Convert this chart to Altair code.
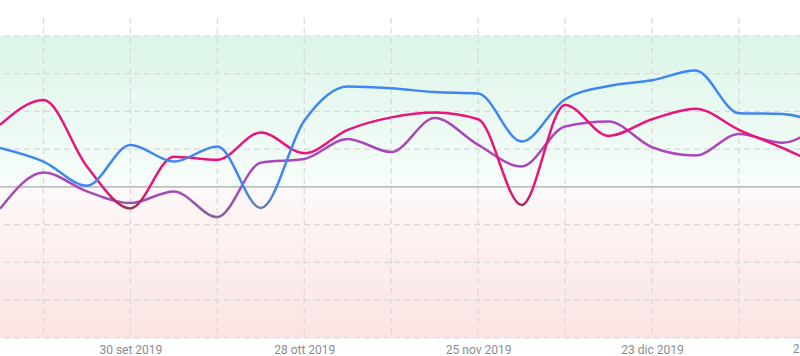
import altair as alt
import pandas as pd

# ---- data (weekly, Mondays) ----
dates = [
    "2019-09-09T00:00:00", "2019-09-16T00:00:00", "2019-09-23T00:00:00", "2019-09-30T00:00:00",
    "2019-10-07T00:00:00", "2019-10-14T00:00:00", "2019-10-21T00:00:00", "2019-10-28T00:00:00",
    "2019-11-04T00:00:00", "2019-11-11T00:00:00", "2019-11-18T00:00:00", "2019-11-25T00:00:00",
    "2019-12-02T00:00:00", "2019-12-09T00:00:00", "2019-12-16T00:00:00", "2019-12-23T00:00:00",
    "2019-12-30T00:00:00", "2020-01-06T00:00:00", "2020-01-13T00:00:00", "2020-01-20T00:00:00",
]
blue = [1.03, 0.67, 0.03, 1.11, 0.67, 1.07, -0.56, 1.75, 2.66, 2.61,
        2.51, 2.47, 1.20, 2.32, 2.67, 2.82, 3.08, 1.95, 1.93, 1.60]
magenta = [1.64, 2.30, 0.54, -0.57, 0.80, 0.72, 1.44, 0.89, 1.51, 1.84,
           1.97, 1.79, -0.48, 2.17, 1.35, 1.79, 2.07, 1.51, 1.03, 0.50]
purple = [-0.58, 0.38, -0.12, -0.43, -0.12, -0.80, 0.64, 0.74, 1.27, 0.92,
          1.82, 1.11, 0.54, 1.60, 1.73, 1.05, 0.83, 1.40, 1.17, 1.80]

grid_dates = ["2019-09-16T00:00:00", "2019-09-30T00:00:00", "2019-10-14T00:00:00",
              "2019-10-28T00:00:00", "2019-11-11T00:00:00", "2019-11-25T00:00:00",
              "2019-12-09T00:00:00", "2019-12-23T00:00:00", "2020-01-06T00:00:00"]
grid_values = [-4, -3, -2, -1, 1, 2, 3, 4]
label_dates = [(2019, 9, 30), (2019, 10, 28), (2019, 11, 25), (2019, 12, 23)]
extra_label_date = ["2020-01-20T00:00:00"]
extra_label_text = ["20 gen 2020"]
month_names = ['gen', 'feb', 'mar', 'apr', 'mag', 'giu', 'lug', 'ago', 'set', 'ott', 'nov', 'dic']

df = pd.DataFrame({"date": dates, "blue": blue, "magenta": magenta, "purple": purple})

W, H = 800, 320
LABEL_COLOR = "#8c8c8c"
FONT = "Roboto"

xscale = alt.Scale(domain=[alt.DateTime(year=2019, month=9, date=9),
                           alt.DateTime(year=2020, month=1, date=15, hours=20)])
yscale = alt.Scale(domain=[-4, 4.47], nice=False, zero=False)

label_expr = ("date(datum.value) + ' ' + " + str(month_names).replace('"', "'") +
              "[month(datum.value)] + ' ' + year(datum.value)")
xaxis = alt.Axis(values=[alt.DateTime(year=y, month=m, date=d) for y, m, d in label_dates],
                 labelExpr=label_expr, grid=False, ticks=False, domain=False,
                 labelFont=FONT, labelFontSize=12, labelColor=LABEL_COLOR,
                 labelPadding=6, labelFlush=False, title=None)

one = pd.DataFrame({"k": [0]})


def grad(stops):
    return {"gradient": "linear", "x1": 0, "y1": 0, "x2": 0, "y2": 1,
            "stops": [{"offset": o, "color": c} for o, c in stops]}


green_bg = alt.Chart(one).mark_rect(
    fill=grad([(0, "#dcf5e8"), (1, "#f7fdfa")])
).encode(
    x=alt.value(0), x2=alt.value("width"),
    y=alt.Y(datum=4, scale=yscale, axis=None), y2=alt.Y2(datum=0)
)
pink_bg = alt.Chart(one).mark_rect(
    fill=grad([(0, "#fef8f8"), (1, "#fbe3e3")])
).encode(
    x=alt.value(0), x2=alt.value("width"),
    y=alt.Y(datum=0, scale=yscale, axis=None), y2=alt.Y2(datum=-4)
)

vgrid = alt.Chart(pd.DataFrame({"d": grid_dates})).mark_rule(
    color="#d9d9d9", strokeDash=[6, 4], strokeWidth=1.2
).encode(x=alt.X("d:T", scale=xscale, axis=xaxis))

hgrid = alt.Chart(pd.DataFrame({"v": grid_values})).mark_rule(
    color="#d9d9d9", strokeDash=[6, 4], strokeWidth=1.2
).encode(y=alt.Y("v:Q", scale=yscale, axis=None))

zero_line = alt.Chart(one).mark_rule(color="#a8a8a8", strokeWidth=1.2).encode(
    y=alt.Y(datum=0, scale=yscale, axis=None)
)


def line_layer(field, normal, dark):
    vals = df[field]
    mx, mn = float(vals.max()), float(vals.min())
    z = mx / (mx - mn)
    return alt.Chart(df).mark_line(
        interpolate="monotone", strokeWidth=2.5, clip=True,
        stroke=grad([(0, normal), (z, normal), (1, dark)])
    ).encode(
        x=alt.X("date:T", scale=xscale, axis=xaxis),
        y=alt.Y(f"{field}:Q", scale=yscale, axis=None)
    )


extra_label = alt.Chart(pd.DataFrame({"d": extra_label_date, "t": extra_label_text})).mark_text(
    align="center", baseline="top", font=FONT, fontSize=12, color=LABEL_COLOR
).encode(
    x=alt.X("d:T", scale=xscale, axis=xaxis),
    y=alt.value(H + 6),
    text="t:N"
)

chart = alt.layer(
    green_bg, pink_bg, vgrid, hgrid, zero_line,
    line_layer("purple", "#ab47bc", "#8a5c98"),
    line_layer("magenta", "#e9147c", "#9c2f5c"),
    line_layer("blue", "#3f86f2", "#5f80b0"),
    extra_label,
).properties(
    width=W, height=H,
    padding={"left": 0, "right": 0, "top": 18, "bottom": 18},
    autosize=alt.AutoSizeParams(type="none"),
).configure_view(strokeWidth=0)

chart.save("out.html", embed_options={"renderer": "svg", "actions": False})
